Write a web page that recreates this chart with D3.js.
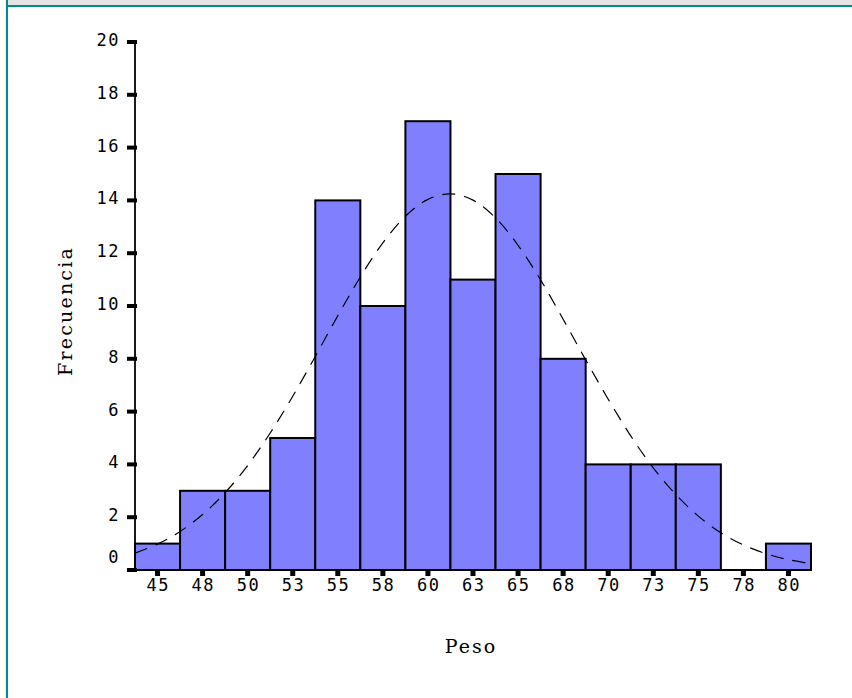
<!DOCTYPE html>
<html>
<head>
<meta charset="utf-8">
<script src="https://cdn.jsdelivr.net/npm/d3@7"></script>
<style>
  html, body { margin: 0; padding: 0; background: #ffffff; }
  svg { display: block; }
</style>
</head>
<body>
<svg id="chart" width="852" height="698"></svg>
<script>
// Weight histogram: bin centres (kg), printed labels and frequencies
const binCenters = [45, 47.5, 50, 52.5, 55, 57.5, 60, 62.5, 65, 67.5, 70, 72.5, 75, 77.5, 80];
const binLabels  = ["45", "48", "50", "53", "55", "58", "60", "63", "65", "68", "70", "73", "75", "78", "80"];
const counts     = [1, 3, 3, 5, 14, 10, 17, 11, 15, 8, 4, 4, 4, 0, 1];
const binWidth   = 2.5;

// Fitted normal curve, sampled every half bin
const curveX = [43.75, 45, 46.25, 47.5, 48.75, 50, 51.25, 52.5, 53.75, 55, 56.25, 57.5, 58.75, 60, 61.25,
                62.5, 63.75, 65, 66.25, 67.5, 68.75, 70, 71.25, 72.5, 73.75, 75, 76.25, 77.5, 78.75, 80, 81.25];
const curveY = [0.64, 0.98, 1.46, 2.10, 2.93, 3.96, 5.19, 6.58, 8.09, 9.63, 11.10, 12.39, 13.40, 14.04, 14.25,
                14.01, 13.34, 12.30, 10.99, 9.50, 7.96, 6.47, 5.08, 3.87, 2.86, 2.04, 1.41, 0.95, 0.62, 0.39, 0.24];

const yTicks = [0, 2, 4, 6, 8, 10, 12, 14, 16, 18, 20];

const svg = d3.select("#chart");

// Page frame: grey heading strip with teal rules
svg.append("rect").attr("x", 8).attr("y", 0).attr("width", 844).attr("height", 5).attr("fill", "#e4e4e4");
svg.append("rect").attr("x", 6).attr("y", 5).attr("width", 846).attr("height", 2).attr("fill", "#008a8a");
svg.append("rect").attr("x", 6).attr("y", 0).attr("width", 2).attr("height", 698).attr("fill", "#008a8a");

const x = d3.scaleLinear()
  .domain([binCenters[0] - binWidth / 2, binCenters[binCenters.length - 1] + binWidth / 2])
  .range([135, 811]);
const y = d3.scaleLinear().domain([0, 20]).range([570, 42]);

const tickFont = "'DejaVu Sans Mono', monospace";
const titleFont = "'DejaVu Serif', serif";

// Bars
svg.append("g").selectAll("rect")
  .data(counts.map((c, i) => ({ c, x0: binCenters[i] - binWidth / 2, x1: binCenters[i] + binWidth / 2 })))
  .join("rect")
  .attr("x", d => x(d.x0))
  .attr("width", d => x(d.x1) - x(d.x0))
  .attr("y", d => y(d.c))
  .attr("height", d => y(0) - y(d.c))
  .attr("fill", "#8080ff")
  .attr("stroke", "#000")
  .attr("stroke-width", 2);

// Normal curve (dashed)
const line = d3.line()
  .x((d, i) => x(curveX[i]))
  .y(d => y(d))
  .curve(d3.curveCatmullRom);
svg.append("path")
  .attr("d", line(curveY))
  .attr("fill", "none")
  .attr("stroke", "#000")
  .attr("stroke-width", 1.2)
  .attr("stroke-dasharray", "13,9");

// Y axis
svg.append("line")
  .attr("x1", 135).attr("x2", 135)
  .attr("y1", y(20)).attr("y2", y(0))
  .attr("stroke", "#000").attr("stroke-width", 1.8);
const yg = svg.append("g");
yg.selectAll("rect")
  .data(yTicks)
  .join("rect")
  .attr("x", 127).attr("width", 10)
  .attr("y", d => y(d) - 2).attr("height", 4)
  .attr("fill", "#000");
yg.selectAll("text")
  .data(yTicks)
  .join("text")
  .attr("x", 120)
  .attr("y", d => y(d) + (d === 0 ? -7 : 4))
  .attr("text-anchor", "end")
  .attr("font-family", tickFont)
  .attr("font-size", 17)
  .attr("letter-spacing", 1.5)
  .attr("fill", "#000")
  .text(d => d);

// X axis
svg.append("line")
  .attr("x1", x.range()[0]).attr("x2", x.range()[1])
  .attr("y1", y(0)).attr("y2", y(0))
  .attr("stroke", "#000").attr("stroke-width", 2);
const xg = svg.append("g");
xg.selectAll("rect")
  .data(binCenters)
  .join("rect")
  .attr("x", d => x(d) - 2.5).attr("width", 5)
  .attr("y", y(0)).attr("height", 6)
  .attr("fill", "#000");
xg.selectAll("text")
  .data(binLabels)
  .join("text")
  .attr("x", (d, i) => x(binCenters[i]) + 0.75)
  .attr("y", 591)
  .attr("text-anchor", "middle")
  .attr("font-family", tickFont)
  .attr("font-size", 17)
  .attr("letter-spacing", 1.5)
  .attr("fill", "#000")
  .text(d => d);

// Axis titles
svg.append("text")
  .attr("x", 471).attr("y", 653)
  .attr("text-anchor", "middle")
  .attr("font-family", titleFont)
  .attr("font-size", 19)
  .attr("letter-spacing", 2)
  .attr("fill", "#000")
  .text("Peso");

svg.append("text")
  .attr("transform", "translate(71.5,311) rotate(-90)")
  .attr("text-anchor", "middle")
  .attr("font-family", titleFont)
  .attr("font-size", 19)
  .attr("letter-spacing", 2.2)
  .attr("fill", "#000")
  .text("Frecuencia");
</script>
</body>
</html>
